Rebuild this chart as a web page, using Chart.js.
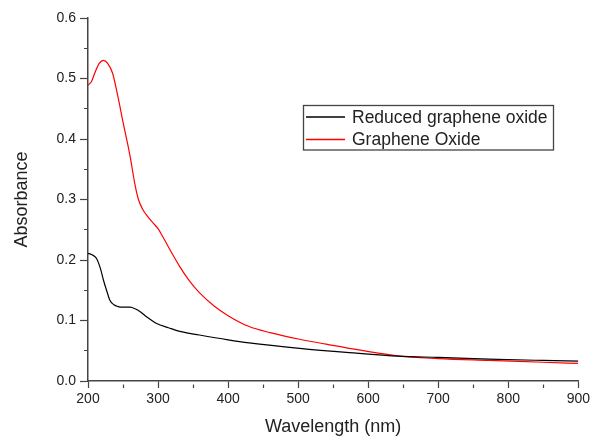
<!DOCTYPE html>
<html>
<head>
<meta charset="utf-8">
<script src="https://cdn.jsdelivr.net/npm/chart.js@4"></script>
<style>
  html, body { margin: 0; padding: 0; background: #fff; }
  #chartUV { display: block; }
</style>
</head>
<body>
<canvas id="chartUV" width="593" height="439"></canvas>
<script>
// UV-vis absorbance, values
const rgoWavelength = [200, 205, 212, 218, 222, 227, 231, 237, 243, 250, 260, 268, 274, 285, 298, 315, 331, 359, 400, 430, 502, 573, 644, 700, 772, 850, 900];
const rgoAbsorbance = [0.211, 0.209, 0.203, 0.185, 0.167, 0.148, 0.134, 0.126, 0.123, 0.122, 0.122, 0.119, 0.115, 0.105, 0.095, 0.088, 0.082, 0.076, 0.068, 0.063, 0.054, 0.047, 0.041, 0.039, 0.036, 0.034, 0.033];

const goWavelength = [200, 205, 210, 216, 222, 228, 235, 242, 250, 260, 267, 272, 278, 285, 293, 300, 307, 318, 331, 345, 359, 380, 400, 430, 460, 502, 540, 573, 610, 644, 700, 772, 850, 900];
const goAbsorbance = [0.489, 0.495, 0.510, 0.525, 0.530, 0.525, 0.509, 0.474, 0.428, 0.372, 0.325, 0.300, 0.284, 0.272, 0.261, 0.252, 0.238, 0.215, 0.189, 0.165, 0.146, 0.124, 0.108, 0.090, 0.080, 0.069, 0.061, 0.054, 0.047, 0.041, 0.037, 0.034, 0.031, 0.029];

const seriesNames = ['Reduced graphene oxide', 'Graphene Oxide'];
const seriesColors = ['#000000', '#ff0000'];

const axisColor = '#444';
const textColor = '#222';
const fontFamily = 'Arial, "Liberation Sans", Helvetica, sans-serif';

const toPoints = (xs, ys) => xs.map((x, i) => ({ x: x, y: ys[i] }));

// minor ticks: the tick line is drawn from its outer end, so skip the outer part
const isMajorX = v => Math.round(v) % 100 === 0;
const isMajorY = v => Math.round(v * 100) % 10 === 0;

// legend box drawn inside the plot area
const boxLegend = {
    id: 'boxLegend',
    afterDraw(chart) {
        const ctx = chart.ctx;
        const x0 = 303.5, y0 = 105.5, w = 250, h = 44.5;
        ctx.save();
        ctx.setLineDash([]);
        ctx.strokeStyle = '#444';
        ctx.lineWidth = 1.3;
        ctx.strokeRect(x0, y0, w, h);
        ctx.font = '17.5px ' + fontFamily;
        ctx.textBaseline = 'middle';
        seriesNames.forEach((name, i) => {
            const yy = i === 0 ? 117 : 139.5;
            ctx.strokeStyle = seriesColors[i];
            ctx.lineWidth = 1.3;
            ctx.beginPath();
            ctx.moveTo(306, yy);
            ctx.lineTo(345, yy);
            ctx.stroke();
            ctx.fillStyle = textColor;
            ctx.fillText(name, 352, yy + 1);
        });
        ctx.restore();
    }
};

new Chart(document.getElementById('chartUV'), {
    type: 'line',
    data: {
        datasets: [
            {
                label: seriesNames[0],
                data: toPoints(rgoWavelength, rgoAbsorbance),
                borderColor: seriesColors[0],
                borderWidth: 1.2,
                pointRadius: 0,
                cubicInterpolationMode: 'monotone',
            },
            {
                label: seriesNames[1],
                data: toPoints(goWavelength, goAbsorbance),
                borderColor: seriesColors[1],
                borderWidth: 1.2,
                pointRadius: 0,
                cubicInterpolationMode: 'monotone',
            }
        ]
    },
    options: {
        responsive: false,
        animation: false,
        layout: { padding: { top: 18, right: 13, left: 0, bottom: 0 } },
        plugins: { legend: { display: false }, tooltip: { enabled: false } },
        scales: {
            x: {
                type: 'linear',
                min: 200,
                max: 900,
                border: { color: axisColor, width: 1.5 },
                grid: {
                    drawOnChartArea: false, tickLength: 7, tickColor: axisColor, tickWidth: 1.2,
                    tickBorderDash: c => (isMajorX(c.tick.value) ? [] : [0, 3, 4, 100])
                },
                ticks: {
                    stepSize: 50,
                    color: textColor,
                    font: { family: fontFamily, size: 14 },
                    maxRotation: 0,
                    autoSkip: false,
                    padding: 3,
                    callback: v => (isMajorX(v) ? String(v) : '')
                },
                title: {
                    display: true,
                    text: 'Wavelength (nm)',
                    color: textColor,
                    font: { family: fontFamily, size: 18 },
                    padding: { top: 0, bottom: 1 }
                },
                afterFit: s => { s.height = 58; }
            },
            y: {
                min: 0,
                max: 0.6,
                border: { color: axisColor, width: 1.5 },
                grid: {
                    drawOnChartArea: false, tickLength: 8, tickColor: axisColor, tickWidth: 1.2,
                    tickBorderDash: c => (isMajorY(c.tick.value) ? [] : [0, 4, 4, 100])
                },
                ticks: {
                    stepSize: 0.05,
                    color: textColor,
                    font: { family: fontFamily, size: 14 },
                    autoSkip: false,
                    padding: 4,
                    callback: v => (isMajorY(v) ? v.toFixed(1) : '')
                },
                title: {
                    display: true,
                    text: 'Absorbance',
                    color: textColor,
                    font: { family: fontFamily, size: 18 },
                    padding: { top: 11, bottom: 0 }
                },
                afterFit: s => { s.width = 88; }
            }
        }
    },
    plugins: [boxLegend]
});
</script>
</body>
</html>
